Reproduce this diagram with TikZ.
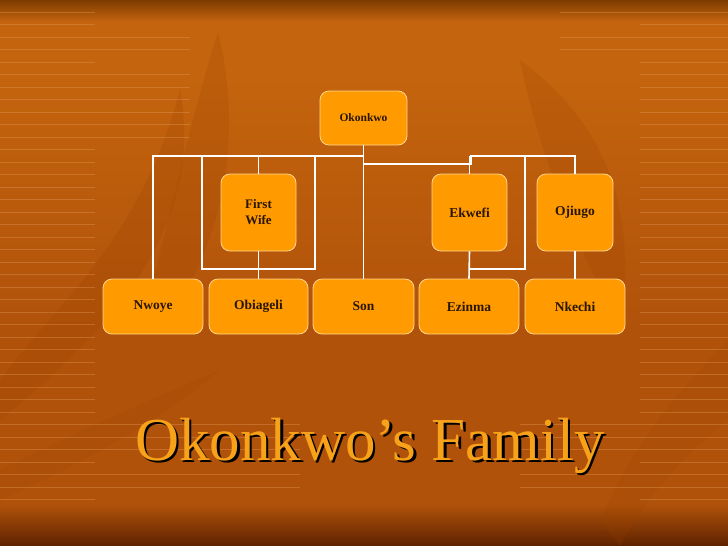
\documentclass[tikz,border=0pt]{standalone}
\usepackage{fontspec}
\setmainfont{Liberation Serif}
\definecolor{bgtop}{HTML}{7E3C00}
\definecolor{bgmid}{HTML}{C4640E}
\definecolor{bgmid2}{HTML}{B0520A}
\definecolor{bgbot}{HTML}{5E2200}
\definecolor{boxfill}{HTML}{FF9A00}
\definecolor{boxline}{HTML}{FFD690}
\definecolor{boxtext}{HTML}{2A1600}
\definecolor{titlecol}{HTML}{F8A21A}
\definecolor{stripe}{HTML}{E8A060}
\definecolor{leaf}{HTML}{9C4200}
\pgfdeclareverticalshading{bgshade}{100bp}{
  color(0bp)=(bgbot); color(25bp)=(bgbot); color(28.8bp)=(bgmid2); color(45bp)=(bgmid2);
  color(68bp)=(bgmid); color(73bp)=(bgmid); color(75bp)=(bgtop); color(100bp)=(bgtop)}
\tikzset{
  person/.style={draw=boxline, line width=0.8pt, fill=boxfill, rounded corners=9pt,
    text=boxtext, font=\bfseries, align=center, inner sep=2pt},
  link/.style={draw=white, line width=1.6pt},
  stripeline/.style={draw=stripe, line width=0.5pt, opacity=0.35}
}
\begin{document}
\begin{tikzpicture}[x=1pt,y=-1pt]
\useasboundingbox (0,0) rectangle (728,546);
\shade[shading=bgshade] (0,0) rectangle (728,546);
% leaves (approximate, faint)
\fill[leaf, opacity=0.22] (0,380) .. controls (60,300) and (140,240) .. (180,90) .. controls (200,200) and (150,300) .. (0,420) -- cycle;
\fill[leaf, opacity=0.2] (150,290) .. controls (170,220) and (190,120) .. (218,32) .. controls (240,120) and (230,220) .. (180,300) -- cycle;
\fill[leaf, opacity=0.2] (520,60) .. controls (600,120) and (640,200) .. (620,330) .. controls (580,250) and (540,160) .. (520,60) -- cycle;
\fill[leaf, opacity=0.18] (0,470) .. controls (80,430) and (150,400) .. (220,370) .. controls (160,420) and (90,460) .. (0,500) -- cycle;
\fill[leaf, opacity=0.18] (600,520) .. controls (640,430) and (690,380) .. (728,340) -- (728,420) .. controls (690,450) and (650,490) .. (620,546) -- cycle;
% stripes
\foreach \y in {12,24.5,37,49.5,62,74.5,87,99.5,112,124.5,137,149.5,162,174.5,187,199.5,212,224.5,237,249.5,262,274.5,287,299.5,312,324.5,337,349.5,362,374.5,387,399.5,412,424.5,437,449.5,462,474.5,487,499.5}{
  \draw[stripeline] (0,\y) -- (95,\y);
  \draw[stripeline] (640,\y) -- (728,\y);
}
\foreach \y in {37,49.5,74.5,87,99.5,112,124.5,137}{
  \draw[stripeline] (95,\y) -- (190,\y);
}
\foreach \y in {12,37,49.5}{
  \draw[stripeline] (560,\y) -- (640,\y);
}
\foreach \y in {424.5,437,449.5,474.5,487}{
  \draw[stripeline] (95,\y) -- (300,\y);
  \draw[stripeline] (520,\y) -- (640,\y);
}
% nodes
\node[person, minimum width=87pt, minimum height=54pt, font=\bfseries\fontsize{11.5}{13}\selectfont] (ok) at (363.5,118) {Okonkwo};
\node[person, minimum width=75pt, minimum height=77pt, font=\bfseries\fontsize{13}{16}\selectfont] (fw) at (258.5,212.5) {First\\ Wife};
\node[person, minimum width=75pt, minimum height=77pt, font=\bfseries\fontsize{13.5}{16}\selectfont] (ek) at (469.5,212.5) {Ekwefi};
\node[person, minimum width=76pt, minimum height=77pt, font=\bfseries\fontsize{13.5}{16}\selectfont] (oj) at (575,212.5) {Ojiugo};
\node[person, minimum width=100pt, minimum height=55pt, font=\bfseries\fontsize{13.5}{16}\selectfont] (nw) at (153,306.5) {Nwoye};
\node[person, minimum width=99pt, minimum height=55pt, font=\bfseries\fontsize{13.5}{16}\selectfont] (ob) at (258.5,306.5) {Obiageli};
\node[person, minimum width=101pt, minimum height=55pt, font=\bfseries\fontsize{13.5}{16}\selectfont] (son) at (363.5,306.5) {Son};
\node[person, minimum width=100pt, minimum height=55pt, font=\bfseries\fontsize{13.5}{16}\selectfont] (ez) at (469,306.5) {Ezinma};
\node[person, minimum width=100pt, minimum height=55pt, font=\bfseries\fontsize{13.5}{16}\selectfont] (nk) at (575,306.5) {Nkechi};
% connector coordinates
\coordinate (hl) at (363.5,156);
\coordinate (rl) at (202,156);
\coordinate (rr) at (315,156);
\coordinate (rbl) at (202,269);
\coordinate (rbr) at (315,269);
\coordinate (hr1) at (363.5,164);
\coordinate (hr2) at (471,164);
\coordinate (hr3) at (471,156);
\coordinate (ekt) at (469.5,156);
\coordinate (ojt) at (575,156);
\coordinate (vt) at (525,156);
\coordinate (vb) at (525,269);
\coordinate (ekb) at (469.5,269);
% connectors
\draw[link] (ok.south) -- (son.north);
\draw[link] (nw.north) |- (hl);
\draw[link] (rr) -- (rbr) -- (rbl) -- (rl);
\draw[link] (fw.north) -- (fw.north |- hl);
\draw[link] (fw.south) -- (ob.north);
\draw[link] (hr1) -- (hr2) -- (hr3);
\draw[link] (ekt) -- (ojt) -- (oj.north);
\draw[link] (ekt) -- (ek.north);
\draw[link] (vt) -- (vb) -- (ekb);
\draw[link] (ek.south) -- (ez.north);
\draw[link] (oj.south) -- (nk.north);
% title
\node[anchor=base, text=black, font=\fontsize{61}{66}\selectfont] (titleshadow) at (372.5,462.5) {Okonkwo’s Family};
\node[anchor=base, text=titlecol, font=\fontsize{61}{66}\selectfont] (title) at (370,460) {Okonkwo’s Family};
\end{tikzpicture}
\end{document}
